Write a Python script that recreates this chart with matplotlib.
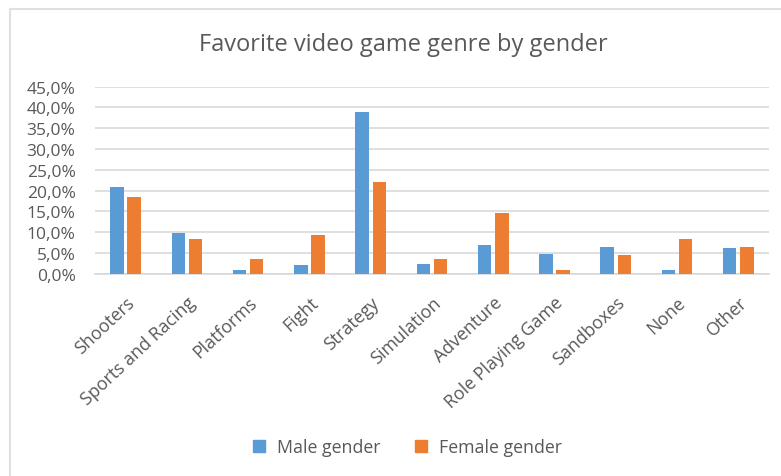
import numpy as np
import matplotlib.pyplot as plt
from matplotlib.lines import Line2D

# datos
generos = ["Shooters", "Sports and Racing", "Platforms", "Fight", "Strategy",
           "Simulation", "Adventure", "Role Playing Game", "Sandboxes", "None", "Other"]
masculino = [20.9, 9.8, 0.8, 2.0, 39.0, 2.4, 6.8, 4.7, 6.4, 1.0, 6.2]
femenino = [18.4, 8.3, 3.6, 9.3, 22.0, 3.6, 14.7, 1.0, 4.6, 8.3, 6.5]
ticks_y = [0, 5, 10, 15, 20, 25, 30, 35, 40, 45]

azul = "#5B9BD5"
naranja = "#ED7D31"
gris_texto = "#595959"
gris_linea = "#D9D9D9"

plt.rcParams['font.family'] = ['Open Sans', 'DejaVu Sans']

fig = plt.figure(figsize=(7.81, 4.77), dpi=100)
ax = fig.add_axes([0.1216, 0.4241, 0.863, 0.392])

x = np.arange(len(generos))
ancho = 0.22
ax.bar(x - 0.14, masculino, ancho, color=azul, label="Male gender", zorder=3)
ax.bar(x + 0.14, femenino, ancho, color=naranja, label="Female gender", zorder=3)

ax.set_xlim(-0.5, len(generos) - 0.5)
ax.set_ylim(0, 45)
ax.set_yticks(ticks_y)
ax.set_yticklabels([f"{v:.1f}%".replace(".", ",") for v in ticks_y],
                   fontsize=12.5, color=gris_texto)
ax.yaxis.grid(True, color=gris_linea, linewidth=1.2, zorder=0)
ax.set_xticks(x)
ax.set_xticklabels(generos, rotation=43, ha='right', rotation_mode='anchor',
                   fontsize=12.8, color=gris_texto)
ax.tick_params(axis='y', length=0, pad=14)
ax.tick_params(axis='x', length=0, pad=14)
for lado in ['top', 'right', 'left']:
    ax.spines[lado].set_visible(False)
ax.spines['bottom'].set_color(gris_linea)
ax.spines['bottom'].set_linewidth(1.2)

fig.text(0.517, 0.905, "Favorite video game genre by gender", ha='center', va='center',
         fontsize=17, color=gris_texto)

manijas = [Line2D([], [], marker='s', linestyle='none', markersize=8, color=azul),
           Line2D([], [], marker='s', linestyle='none', markersize=8, color=naranja)]
fig.legend(manijas, ["Male gender", "Female gender"], loc='center', ncol=2,
           bbox_to_anchor=(0.52, 0.061), frameon=False, fontsize=12.8,
           labelcolor=gris_texto, handlelength=1.0, handletextpad=0.5,
           columnspacing=1.8)

# borde del área del gráfico
fig.add_artist(Line2D([10 / 781, 10 / 781], [0, 1 - 10 / 477], transform=fig.transFigure,
                      color="#E0E0E0", linewidth=1.5))
fig.add_artist(Line2D([10 / 781, 1], [1 - 10 / 477, 1 - 10 / 477], transform=fig.transFigure,
                      color="#E0E0E0", linewidth=1.5))

fig.savefig("out.png", dpi=100)
